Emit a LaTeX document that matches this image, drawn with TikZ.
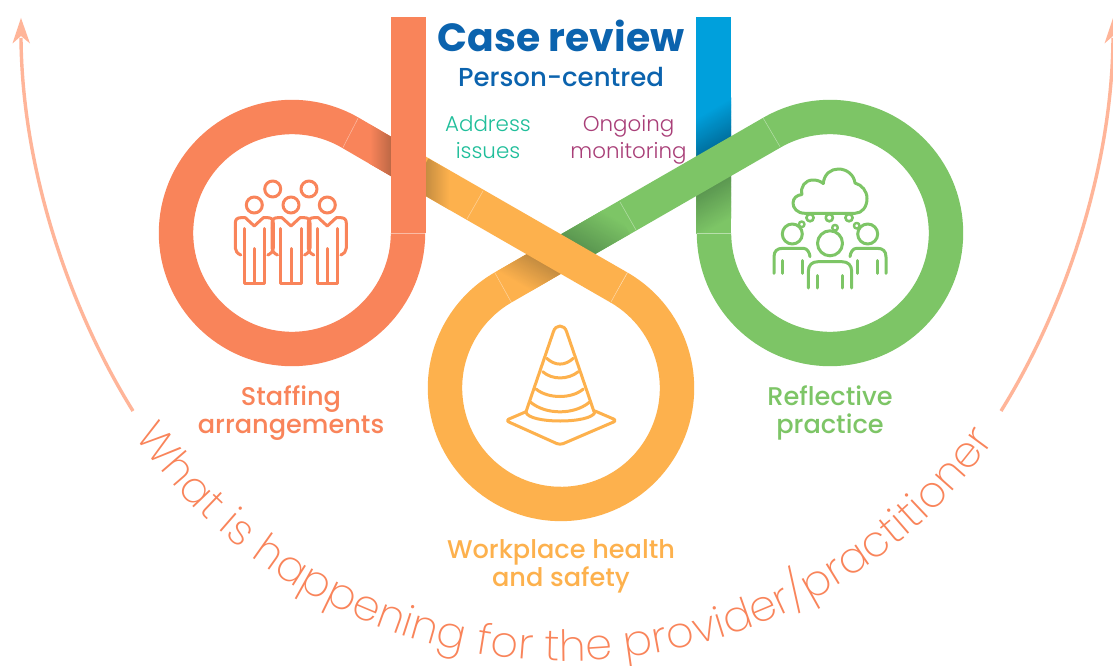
\documentclass[tikz,border=0pt]{standalone}
\usepackage{fontspec}
\usetikzlibrary{decorations.text}
\setmainfont{Poppins}
\newfontfamily\lightf{Poppins Light}
\newfontfamily\xlightf{Poppins ExtraLight}
\newfontfamily\medf{Poppins Medium}
\newfontfamily\boldf{Poppins Bold}
\definecolor{rc}{HTML}{F9845A}
\definecolor{rd}{HTML}{BD6845}
\definecolor{oc}{HTML}{FDB14D}
\definecolor{od}{HTML}{C48C40}
\definecolor{gc}{HTML}{7DC566}
\definecolor{gd}{HTML}{5A9650}
\definecolor{bc}{HTML}{00A0DC}
\definecolor{bd}{HTML}{00709F}
\definecolor{titlec}{HTML}{0B63AE}
\definecolor{teal}{HTML}{1FBE9A}
\definecolor{plum}{HTML}{A93F78}
\definecolor{arrowc}{HTML}{FFB599}
\tikzset{
  band/.style={line width=34.4pt,line cap=butt,line join=round,draw=#1},
  seam/.style={line width=0.5pt,draw=white,opacity=0.45},
  icon/.style={line width=3pt,line cap=round,line join=round,draw=#1},
  lab/.style={font=\medf\fontsize{25.6}{28}\selectfont,align=center,text=#1,inner sep=0pt},
  small/.style={font=\lightf\fontsize{21.4}{26.5}\selectfont,align=center,text=#1,inner sep=0pt},
  arrowline/.style={line width=3.4pt,draw=arrowc},
  arrowfill/.style={fill=arrowc,draw=none}
}
% gradient strip: origin, rotation, side, offset, steps, dark, base
\newcommand\gradstrip[7]{%
  \begin{scope}[shift={#1},rotate=#2]
    \foreach \tt in {0,...,#5}{%
      \pgfmathtruncatemacro\pp{100*\tt/#5}%
      \pgfmathsetmacro\bb{#3*(#4+\tt)}%
      \draw[line width=1.6pt,draw=#7!\pp!#6] (-120,\bb) -- (120,\bb);
    }%
  \end{scope}}
\newcommand\staffperson[1]{%
  \begin{scope}[shift={(#1,0)}]
    \draw[icon=rc] (0,205) circle[radius=8];
    \draw[icon=rc] (-19,228) -- (-19,223) .. controls (-19,219.5) and (-17,217.7) .. (-13.5,217.7) -- (-9,217.7) -- (0,226) -- (9,217.7) -- (13.5,217.7) .. controls (17,217.7) and (19,219.5) .. (19,223) -- (19,248) .. controls (19,251) and (17,253.5) .. (13.5,255);
    \draw[icon=rc] (-19,228) -- (-19,248) .. controls (-19,251) and (-17,253.5) .. (-13.5,255);
    \draw[icon=rc] (-10.3,228.5) -- (-10.3,283.3) -- (10.3,283.3) -- (10.3,228.5);
    \draw[icon=rc] (0,248.5) -- (0,283.3);
  \end{scope}}
\begin{document}
\begin{tikzpicture}[x=1pt,y=-1pt]
\useasboundingbox (0,0) rectangle (1113,666);
\fill[white] (0,0) rectangle (1113,666);
% key points
\coordinate (X) at (560.5,254.3);
\coordinate (gs) at (714,233);
% right (blue/green) bar
\fill[bc] (696.3,17) rectangle (731,175);
\fill[gc] (696.3,150) rectangle (731,233.4);
\begin{scope}
  \clip (696.3,17) rectangle (731,175);
  \gradstrip{(714,165.7)}{30}{-1}{16}{34}{bd}{bc}
\end{scope}
\begin{scope}
  \clip (696.3,150) rectangle (731,233);
  \gradstrip{(714,165.7)}{30}{1}{16}{38}{gd}{gc}
\end{scope}
% green loop and diagonal
\draw[band=gc] (714,233) arc[start angle=180,end angle=-120,radius=116] -- (X);
% lower orange loop + tail
\draw[band=oc] (619,287.5) arc[start angle=-60,end angle=240,radius=116] -- (X);
% crossing shadows
\begin{scope}
  \clip (569,269) -- (552,239.6) -- (612.6,204.6) -- (629.6,234) -- cycle;
  \gradstrip{(X)}{-30}{-1}{16.5}{42}{gd}{gc}
\end{scope}
\begin{scope}
  \clip (569,269) -- (552,239.6) -- (491.4,274.6) -- (508.4,304) -- cycle;
  \gradstrip{(X)}{-30}{1}{16.5}{30}{od}{oc}
\end{scope}
% main orange diagonal
\draw[band=oc] (619,287.5) -- (400,161.6);
\begin{scope}
  \clip (428.5,158.4) -- (411.5,187.8) -- (466.5,219.7) -- (483.5,190.3) -- cycle;
  \gradstrip{(425.5,200)}{90}{1}{0}{24}{od}{oc}
\end{scope}
% red loop
\draw[band=rc] (408,233) arc[start angle=0,end angle=300,radius=116] -- (400,161.6);
\begin{scope}
  \clip (359,118.3) -- (342,147.7) -- (391.5,176.3) -- (408.5,146.9) -- cycle;
  \gradstrip{(391,150)}{90}{-1}{0}{21}{rd}{rc}
\end{scope}
\fill[rc] (391,17) rectangle (425.6,233.2);
% seams
\draw[seam] (391,233) -- (425,233);
\draw[seam] (358,118.3) -- (343,147.5);
\draw[seam] (483,191) -- (467,219);
\draw[seam] (627,273) -- (611,302);
\draw[seam] (495,273) -- (511.7,303);
\draw[seam] (620,202) -- (636,230);
\draw[seam] (763.3,118.3) -- (780,146.7);
\draw[seam] (697,233) -- (731,233);
% staffing icon
\draw[icon=rc] (272.7,189) circle[radius=8];
\draw[icon=rc] (309,189) circle[radius=8];
\staffperson{254.3}
\staffperson{291}
\staffperson{327.3}
% cone icon
\begin{scope}
\draw[icon=oc] (526,411.7) -- (553.3,332) .. controls (555.5,324) and (564.5,324) .. (566.7,332) -- (594,411.7);
\draw[icon=oc] (546.7,358.3) .. controls (555,366) and (565,366) .. (573.3,358.3);
\draw[icon=oc] (542.7,371.7) .. controls (552,380) and (568,380) .. (578.3,371.7);
\draw[icon=oc] (536,389) .. controls (548,399) and (572,399) .. (583.3,389);
\draw[icon=oc] (530.7,402.3) .. controls (546,415) and (574,415) .. (589.3,402.3);
\draw[icon=oc] (526,412) .. controls (528,424) and (592,424) .. (595,412);
\draw[icon=oc,rounded corners=3.5pt] (526,411.7) -- (505.5,420.5) -- (560,445) -- (617,420.5) -- (595,411);
\end{scope}
% reflective icon
\draw[icon=gc] (805,213.3) .. controls (797,213.3) and (793,208) .. (793,203) .. controls (793,198) and (797,195) .. (802,194.5) .. controls (800,187) and (805,180) .. (813,180) .. controls (817,180) and (820,181) .. (823.3,183.5) .. controls (824,174) and (831,169) .. (838.3,169) .. controls (847,169) and (854,175) .. (855,183) .. controls (862,185) and (867,191) .. (867,198.5) .. controls (867,207) and (862,213.3) .. (855,213.3) -- cycle;
\fill[white] (810,217.7) circle[radius=4] (829.3,217.7) circle[radius=4] (849,217.7) circle[radius=4];
\draw[icon=gc,line width=2.6pt] (810,217.7) circle[radius=3.6];
\draw[icon=gc,line width=2.6pt] (829.3,217.7) circle[radius=3.6];
\draw[icon=gc,line width=2.6pt] (849,217.7) circle[radius=3.6];
\draw[icon=gc,line width=2.4pt] (801.7,224.3) circle[radius=2.8];
\draw[icon=gc,line width=2.4pt] (835,227.7) circle[radius=2.8];
\draw[icon=gc,line width=2.4pt] (856.7,225.7) circle[radius=2.8];
\draw[icon=gc] (830,243.3) circle[radius=12.5];
\draw[icon=gc] (792.3,234) circle[radius=10];
\draw[icon=gc] (867.7,234) circle[radius=10];
\draw[icon=gc] (808.3,288) -- (808.3,271.7) .. controls (808.3,265) and (812,261.7) .. (818,261.7) -- (842,261.7) .. controls (848,261.7) and (851.7,265) .. (851.7,271.7) -- (851.7,288);
\draw[icon=gc] (817.3,275.5) -- (817.3,288);
\draw[icon=gc] (842.7,275.5) -- (842.7,288);
\draw[icon=gc] (774,273.3) -- (774,257) .. controls (774,251) and (777,248.3) .. (783,248.3) -- (803.3,248.3) .. controls (807,248.3) and (809.5,252) .. (810,256.7);
\draw[icon=gc] (782.3,260.5) -- (782.3,273.3);
\draw[icon=gc] (802.7,260.5) -- (802.7,273.3);
\draw[icon=gc] (886,273.3) -- (886,257) .. controls (886,251) and (883,248.3) .. (877,248.3) -- (856.7,248.3) .. controls (853,248.3) and (850.5,252) .. (850,256.7);
\draw[icon=gc] (877.7,260.5) -- (877.7,273.3);
\draw[icon=gc] (857.3,260.5) -- (857.3,273.3);
% header texts
\node[font=\boldf\fontsize{39.3}{44}\selectfont,text=titlec,anchor=base,inner sep=0pt] (title) at (561,52) {Case review};
\node[font=\medf\fontsize{26}{30}\selectfont,text=titlec,anchor=base,inner sep=0pt] (sub) at (561,87) {Person-centred};
\node[small=teal,anchor=base] (addr) at (488,158) {Address\\issues};
\node[small=plum,anchor=base] (ongo) at (628.5,158) {Ongoing\\monitoring};
% labels
\node[lab=rc,anchor=base] (staff) at (291,433) {Staffing\\arrangements};
\node[lab=gc,anchor=base] (refl) at (830,433) {Reflective\\practice};
\node[lab=oc,anchor=base] (work) at (561,586) {Workplace health\\and safety};
% outer arrows
\coordinate (ls) at (133,411);
\coordinate (lt) at (21,38);
\coordinate (rs) at (1001,411);
\coordinate (rt) at (1113,38);
\draw[arrowline] (ls) .. controls (70,310) and (22,170) .. (lt);
\draw[arrowline] (rs) .. controls (1064,310) and (1112,170) .. (rt);
\fill[arrowfill] (21,18) -- (30,43.5) -- (21,36) -- (12.5,43.5) -- cycle;
\fill[arrowfill] (1113,18) -- (1122,43.5) -- (1113,36) -- (1104.5,43.5) -- cycle;
% curved text
\path[decorate,decoration={text along path,text align={fit to path},
  text={|\xlightf\fontsize{43}{43}\selectfont\color{rc}|What is happening for the provider/practitioner}}]
  (566,135) ++(145:526) arc[start angle=145,end angle=35.5,radius=526];
\end{tikzpicture}
\end{document}
